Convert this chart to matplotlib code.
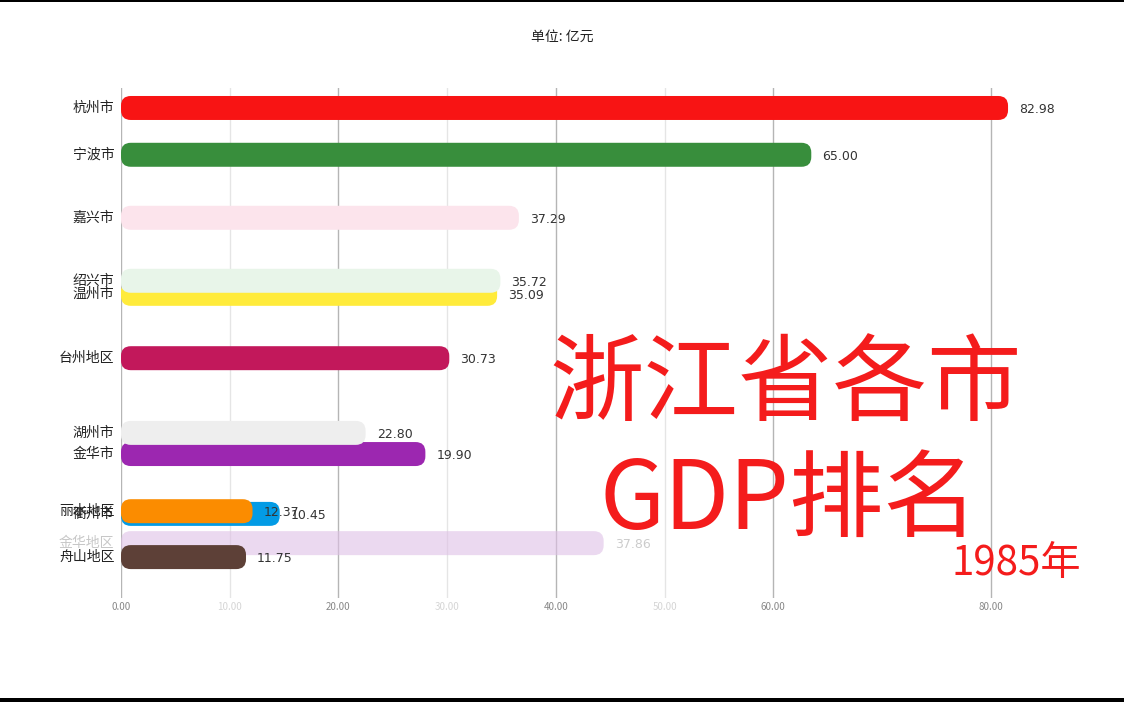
import matplotlib
matplotlib.use('Agg')
from matplotlib import pyplot as plt
from matplotlib.patches import FancyBboxPatch, Rectangle

plt.rcParams['font.family'] = ['Noto Sans CJK SC', 'DejaVu Sans']

# one frame of a bar race: bars are mid-animation, labels show the year's values
cities = ['杭州市', '宁波市', '嘉兴市', '绍兴市', '温州市', '台州地区',
          '湖州市', '金华市', '丽水地区', '衢州市', '金华地区', '舟山地区']
bar_now = [81.6, 63.5, 36.6, 34.9, 34.6, 30.2, 22.5, 28.0, 12.1, 14.6, 44.4, 11.5]
shown = [82.98, 65.00, 37.29, 35.72, 35.09, 30.73, 22.80, 19.90, 12.37, 10.45, 37.86, 11.75]
rank_now = [1.0, 2.04, 3.44, 4.84, 5.13, 6.56, 8.22, 8.69, 9.96, 10.02, 10.67, 10.98]
fade = [1, 1, 1, 1, 1, 1, 1, 1, 1, 1, 0.6, 1]
colors = ['#f81414', '#388e3c', '#fce4ec', '#e8f5e9', '#ffeb3b', '#c2185b',
          '#eeeeee', '#9c27b0', '#fb8c00', '#039be5', '#dfc0e6', '#5d4037']

ticks = [0, 10, 20, 30, 40, 50, 60, 80]
tick_alpha = [1, 0.35, 1, 0.35, 1, 0.35, 1, 1]

W, H = 1124, 702
fig = plt.figure(figsize=(W / 100, H / 100), dpi=100)
ax = fig.add_axes([121 / W, 1 - 598 / H, (1045 - 121) / W, (598 - 88) / H])
ax.set_xlim(0, 85)
ax.set_ylim(11.889, 0.556)

for t, a in zip(ticks, tick_alpha):
    ax.axvline(t, color='#b5b5b5', lw=1, alpha=a, zorder=0)

bh = 0.533
# faded bars go underneath, then lower ranks first so upper bars sit on top
order = sorted(range(len(cities)), key=lambda i: (fade[i] == 1, -rank_now[i]))
for z, i in enumerate(order):
    box = FancyBboxPatch((0, rank_now[i] - bh / 2), bar_now[i], bh,
                         boxstyle='round,pad=0,rounding_size=0.9',
                         mutation_aspect=0.2415, fc=colors[i], ec='none',
                         alpha=fade[i], zorder=2 + z)
    ax.add_patch(box)
    ta = 1 if fade[i] == 1 else 0.25
    ax.text(-0.6, rank_now[i], cities[i], ha='right', va='center',
            fontsize=10, color='#222222', alpha=ta, zorder=2 + z)
    ax.annotate(f'{shown[i]:.2f}', (bar_now[i], rank_now[i]), xytext=(8, -1),
                textcoords='offset points', va='center', fontsize=9,
                family='DejaVu Sans', color='#333333', alpha=ta, zorder=2 + z)

ax.set_xticks(ticks)
ax.set_xticklabels([f'{t:.2f}' for t in ticks], fontsize=7, color='#888888')
for lbl, a in zip(ax.get_xticklabels(), tick_alpha):
    lbl.set_alpha(a)
ax.tick_params(axis='x', length=0, pad=3)
ax.set_yticks([])
for s in ax.spines.values():
    s.set_visible(False)

fig.text(562 / W, 1 - 37 / H, '单位: 亿元', ha='center', va='center',
         fontsize=10, color='#222222')

red = '#f41c1c'
fig.text(786 / W, 1 - 386 / H, '浙江省各市', ha='center', va='center',
         fontsize=68, color=red)
fig.text(789 / W, 1 - 502 / H, 'GDP排名', ha='center', va='center',
         fontsize=68, color=red)
fig.text(1016 / W, 1 - 563 / H, '1985年', ha='center', va='center',
         fontsize=29, color=red)

# black frame edges of the video still
fig.add_artist(Rectangle((0, 1 - 2 / H), 1, 2 / H, transform=fig.transFigure,
                         fc='black', ec='none'))
fig.add_artist(Rectangle((0, 0), 1, 4 / H, transform=fig.transFigure,
                         fc='black', ec='none'))

fig.savefig('out.png', dpi=100)
